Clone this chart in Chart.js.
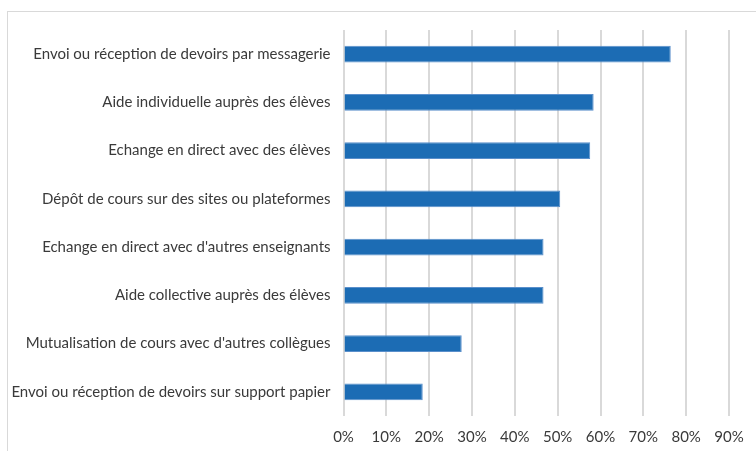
<!DOCTYPE html>
<html lang="fr">

<head>
    <meta charset="UTF-8">
    <title>Usages numériques</title>
    <script src="https://cdn.jsdelivr.net/npm/chart.js@4.4.0/dist/chart.umd.min.js"></script>
    <style>
        body { margin: 0; background: #fff; }
        #wrap { position: relative; width: 756px; height: 451px; }
        /* cadre gris du graphique */
        #frame { position: absolute; left: 7px; top: 11px; width: 760px; height: 460px; border: 1px solid #d9d9d9; }
        canvas { position: absolute; left: 0; top: 0; }
    </style>
</head>

<body>
    <div id="wrap">
        <div id="frame"></div>
        <canvas id="usageChart" width="756" height="451"></canvas>
    </div>

    <script>
        // categories (top to bottom)
        const categories = [
            'Envoi ou réception de devoirs par messagerie',
            'Aide individuelle auprès des élèves',
            'Echange en direct avec des élèves',
            'Dépôt de cours sur des sites ou plateformes',
            "Echange en direct avec d'autres enseignants",
            'Aide collective auprès des élèves',
            "Mutualisation de cours avec d'autres collègues",
            'Envoi ou réception de devoirs sur support papier'
        ];
        // share of teachers, in %
        const values = [76.4, 58.4, 57.6, 50.6, 46.7, 46.7, 27.6, 18.5];
        // x axis ticks
        const xMin = 0;
        const xMax = 90;
        const xStep = 10;

        const ctx = document.getElementById('usageChart').getContext('2d');
        const chart = new Chart(ctx, {
            type: 'bar',
            data: {
                labels: categories,
                datasets: [{
                    data: values,
                    backgroundColor: '#1c6cb4',
                    borderColor: '#5a8fcb',
                    borderWidth: 1,
                    barPercentage: 0.35,
                    categoryPercentage: 1
                }]
            },
            options: {
                indexAxis: 'y',
                responsive: false,
                animation: false,
                layout: { padding: { top: 30, right: 27, bottom: 0, left: 0 } },
                plugins: {
                    legend: { display: false },
                    tooltip: { enabled: false }
                },
                scales: {
                    x: {
                        min: xMin,
                        max: xMax,
                        border: { display: false },
                        grid: { color: '#d9d9d9', lineWidth: 2, drawTicks: false },
                        ticks: {
                            stepSize: xStep,
                            padding: 12,
                            color: '#3a3a3a',
                            font: { family: 'Lato', size: 15 },
                            callback: v => v + '%'
                        },
                        afterFit: s => { s.height = 35; }
                    },
                    y: {
                        border: { display: false },
                        grid: { display: false, drawTicks: false },
                        ticks: {
                            padding: 13,
                            color: '#3a3a3a',
                            font: { family: 'Lato', size: 15 }
                        },
                        afterFit: s => { s.width = 343.5; }
                    }
                }
            }
        });
    </script>
</body>

</html>
